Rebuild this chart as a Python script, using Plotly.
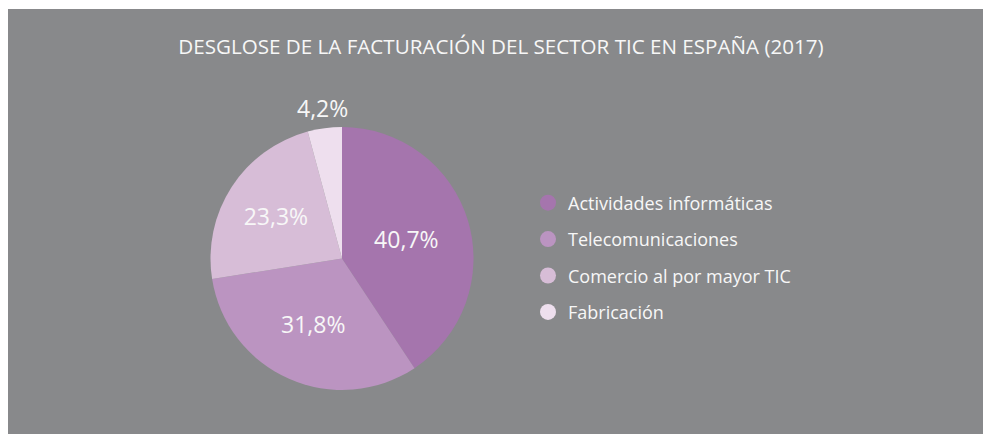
import math
import plotly.graph_objects as go

categories = ["Actividades informáticas", "Telecomunicaciones", "Comercio al por mayor TIC", "Fabricación"]
values = [40.7, 31.8, 23.3, 4.2]
colors = ["#A575AD", "#BB94C1", "#D7BDD7", "#EEDFEE"]
outside = [False, False, False, True]
title_text = "DESGLOSE DE LA FACTURACIÓN DEL SECTOR TIC EN ESPAÑA (2017)"

W, H = 983, 434
ML, MT = 8, 9                 # white border of the original picture
PW, PH = W - ML, H - MT       # gray panel size
BG = "#88898B"
FONT = "'Open Sans', Lato, sans-serif"
TXT = "#F7F7F7"

# pie geometry (paper coords of the gray panel)
R = 131.5
cx = (342 - ML) / PW
cy = 1 - (258.5 - MT) / PH
dom_x = [cx - R / PW, cx + R / PW]
dom_y = [cy - R / PH, cy + R / PH]

def fmt(v):
    return f"{v:.1f}".replace(".", ",") + "%"

labels_text = [("" if o else fmt(v)) for v, o in zip(values, outside)]

fig = go.Figure()

fig.add_trace(go.Pie(
    labels=categories,
    values=values,
    text=labels_text,
    sort=False,
    direction="clockwise",
    rotation=0,
    marker=dict(colors=colors, line=dict(width=0)),
    textinfo="text",
    textposition="inside",
    insidetextorientation="horizontal",
    textfont=dict(family=FONT, size=23, color=TXT),
    showlegend=False,
    hoverinfo="label+percent",
    domain=dict(x=dom_x, y=dom_y),
))

# outside label(s) centred on the slice mid-angle, just beyond the rim
total = sum(values)
cum = 0.0
for v, o in zip(values, outside):
    mid = (cum + v / 2) / total * 2 * math.pi
    cum += v
    if o:
        dist = R + 20
        fig.add_annotation(
            x=cx + dist * math.sin(mid) / PW, y=cy + dist * math.cos(mid) / PH,
            xref="paper", yref="paper", xanchor="center", yanchor="middle",
            text=fmt(v), showarrow=False,
            font=dict(family=FONT, size=23, color=TXT),
        )

for name, col in zip(categories, colors):
    fig.add_trace(go.Scatter(
        x=[None], y=[None], mode="markers", name=name, legendgroup=name,
        marker=dict(symbol="circle", size=18, color=col),
        showlegend=True,
    ))

fig.add_shape(type="rect", xref="paper", yref="paper", x0=0, x1=1, y0=0, y1=1,
              fillcolor=BG, line=dict(width=0), layer="below")

fig.update_layout(
    width=W, height=H,
    margin=dict(l=ML, t=MT, r=0, b=0),
    paper_bgcolor="white",
    plot_bgcolor=BG,
    title=dict(text=title_text, x=501 / W, xanchor="center", y=1 - 47 / H, yanchor="middle",
               font=dict(family=FONT, size=20.6, color=TXT)),
    xaxis=dict(visible=False),
    yaxis=dict(visible=False),
    legend=dict(
        x=(528 - ML) / PW, xanchor="left",
        y=1 - (257.5 - MT) / PH, yanchor="middle",
        font=dict(family=FONT, size=18, color=TXT),
        tracegroupgap=10,
        bgcolor="rgba(0,0,0,0)",
        itemsizing="trace",
    ),
)

fig.write_html("out.html", config={"displayModeBar": False},
               post_script="document.body.style.margin='0';")
